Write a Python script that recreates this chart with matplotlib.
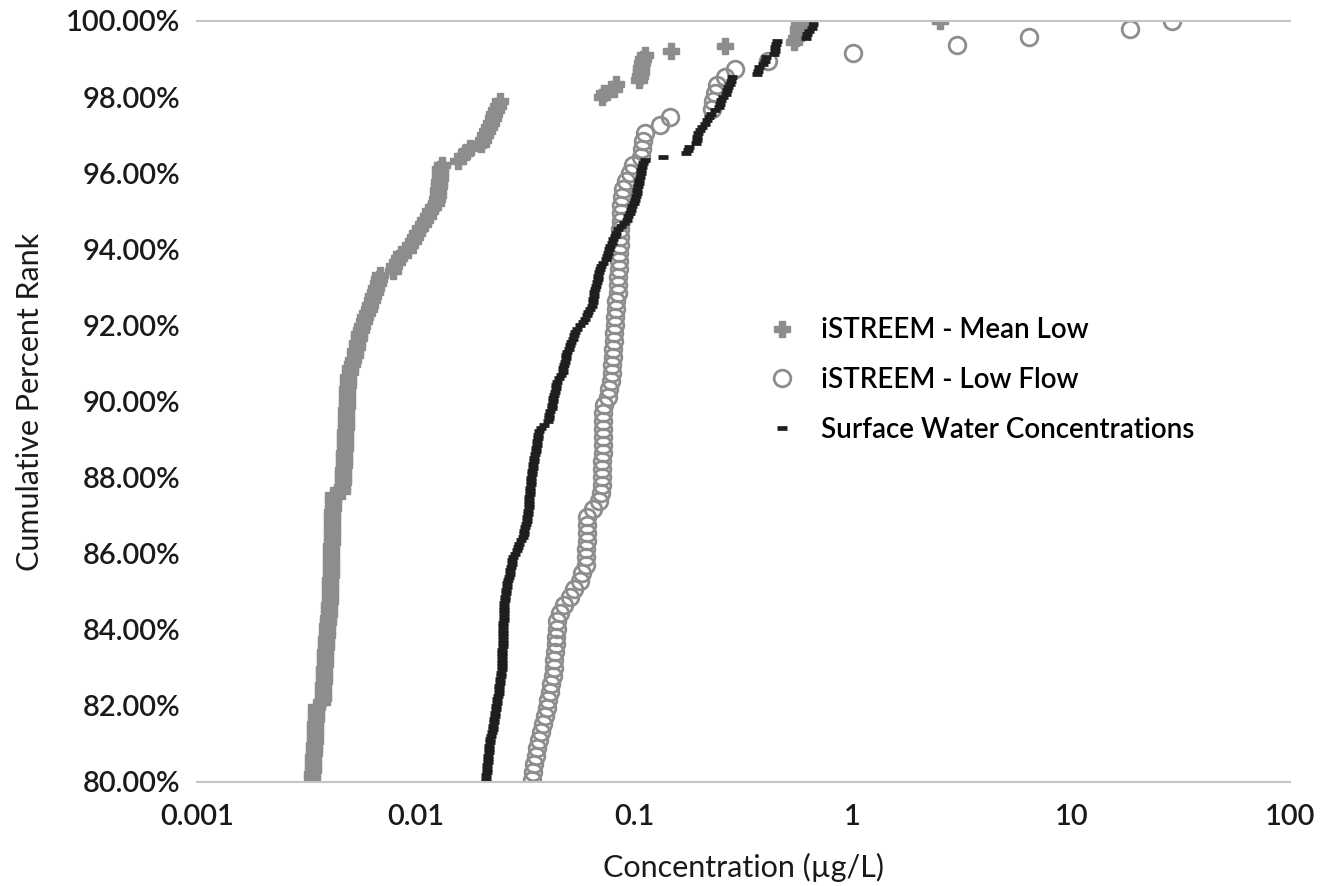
import numpy as np
import matplotlib.pyplot as plt
from matplotlib.ticker import FixedLocator, NullLocator, PercentFormatter

plt.rcParams['font.family'] = ['Lato', 'DejaVu Sans']
plt.rcParams['font.weight'] = 'semibold'

# concentrations (ug/L), sorted high -> low, only the part above the 80th percentile is shown
# iSTREEM - Mean Low
mean_low = [2.5, 0.57, 0.56, 0.56, 0.55, 0.54, 0.26, 0.148, 0.112, 0.110,
            0.109, 0.108, 0.107, 0.106, 0.105, 0.083, 0.081, 0.073, 0.071,
            0.0243, 0.0238, 0.0234, 0.0229, 0.0225, 0.0221, 0.0216, 0.0212, 0.0208, 0.0203, 0.0199,
            0.0177, 0.0170, 0.0163, 0.0157,
            0.0132, 0.0130, 0.0129, 0.0129, 0.0128, 0.0128, 0.0127, 0.0127, 0.0126,
            0.0124, 0.0120, 0.0117, 0.0114, 0.0111, 0.0108, 0.0105, 0.0102, 0.0099, 0.0097, 0.0094,
            0.0092, 0.0086, 0.0084, 0.0082, 0.0080, 0.0079,
            0.0069, 0.0068, 0.0067, 0.0066, 0.0065, 0.0064, 0.0063, 0.0062, 0.0061, 0.0060,
            0.0059, 0.0058, 0.0057, 0.0056, 0.0055, 0.0055, 0.0054, 0.0054, 0.0053, 0.0053,
            0.0052, 0.0051, 0.0050, 0.0050, 0.0049, 0.0049,
            0.00490, 0.00488, 0.00487, 0.00486, 0.00485, 0.00484, 0.00483, 0.00482, 0.00481, 0.00480,
            0.00479, 0.00478, 0.00477, 0.00476, 0.00475, 0.00474, 0.00473, 0.00472, 0.00470, 0.00469,
            0.00468, 0.00467, 0.00465, 0.00464, 0.00462, 0.00460,
            0.00418, 0.00418, 0.00417, 0.00417, 0.00416, 0.00416, 0.00415, 0.00415, 0.00414, 0.00414,
            0.00413, 0.00413, 0.00412, 0.00412, 0.00411, 0.00411, 0.00410, 0.00410, 0.00409, 0.00409,
            0.00408, 0.00408, 0.00407, 0.00407,
            0.00406, 0.00404, 0.00403, 0.00401, 0.00400, 0.00398, 0.00397, 0.00395, 0.00394, 0.00393,
            0.00391, 0.00390, 0.00389, 0.00387, 0.00386, 0.00385, 0.00384, 0.00383, 0.00382, 0.00381,
            0.00380, 0.00379, 0.00378, 0.00377, 0.00376, 0.00375,
            0.00352, 0.00351, 0.00350, 0.00349, 0.00348, 0.00347, 0.00346, 0.00345, 0.00345, 0.00344,
            0.00343, 0.00342, 0.00341, 0.00340, 0.00339, 0.00338, 0.00337, 0.00336]
n_mean_low = 900   # total records in the iSTREEM mean-low set

# iSTREEM - Low Flow
low_flow = [29.0, 18.5, 6.4, 3.0, 1.0, 0.41, 0.29, 0.26, 0.24, 0.235,
            0.23, 0.228, 0.146, 0.131, 0.112, 0.110, 0.109, 0.108, 0.099, 0.096,
            0.092, 0.089, 0.088,
            0.087, 0.087, 0.087, 0.086, 0.086, 0.086, 0.085, 0.085, 0.085, 0.084,
            0.084, 0.084, 0.083, 0.083, 0.082, 0.082, 0.081, 0.081, 0.080, 0.080,
            0.079, 0.079, 0.078, 0.077, 0.076, 0.073,
            0.0722, 0.0721, 0.0720, 0.0719, 0.0718, 0.0717, 0.0716, 0.0714, 0.0712, 0.0710, 0.0705,
            0.069, 0.0647,
            0.0610, 0.0609, 0.0608, 0.0607, 0.0605, 0.0603, 0.0600,
            0.058, 0.0565, 0.053, 0.051, 0.048, 0.0458,
            0.0444, 0.0442, 0.0440, 0.0438, 0.0435, 0.0432, 0.0428, 0.0425,
            0.0418, 0.0411, 0.0405, 0.0399, 0.0392, 0.0384, 0.0376, 0.0368, 0.0360, 0.0354,
            0.0348, 0.0344, 0.0341]
n_low_flow = 477

# Surface Water Concentrations (measured)
surface = [0.66, 0.65, 0.63, 0.62, 0.61, 0.45, 0.445, 0.441, 0.44, 0.437,
           0.40, 0.398, 0.39, 0.372, 0.368, 0.365, 0.28, 0.277, 0.274, 0.27,
           0.265, 0.262, 0.255, 0.250, 0.247, 0.245, 0.235, 0.225, 0.220, 0.215,
           0.211, 0.205, 0.200, 0.196, 0.194, 0.193, 0.192, 0.178, 0.176, 0.173,
           0.1355, 0.112, 0.110,
           0.1086, 0.1078, 0.1070, 0.1062, 0.1055, 0.1047, 0.1040, 0.1032, 0.1025, 0.1017, 0.1008,
           0.0995, 0.0981, 0.0967, 0.0954, 0.0940, 0.0927,
           0.0900, 0.0870, 0.0845,
           0.0830, 0.0815, 0.0802, 0.0788, 0.0775,
           0.0767, 0.0759, 0.0751, 0.0743,
           0.0720, 0.0705, 0.0698,
           0.0692, 0.0686, 0.0680, 0.0674, 0.0668, 0.0662,
           0.0658, 0.0654, 0.0650, 0.0645, 0.0641,
           0.0630, 0.0618, 0.0606, 0.0594, 0.0583,
           0.0565, 0.0550, 0.0536,
           0.0530, 0.0523, 0.0516, 0.0509, 0.0501, 0.0493,
           0.0489, 0.0486, 0.0482, 0.0479, 0.0475, 0.0472,
           0.0462, 0.0453, 0.0444,
           0.0440, 0.0437, 0.0433, 0.0429, 0.0425,
           0.0424, 0.0422, 0.0420,
           0.0414, 0.0409, 0.0406, 0.0403,
           0.0385, 0.0375, 0.0368, 0.0363,
           0.0362, 0.0360, 0.0358, 0.0356, 0.0354, 0.0352, 0.0350, 0.0348, 0.0346, 0.0344,
           0.0342, 0.0340, 0.0338,
           0.0337, 0.0336, 0.0335, 0.0334, 0.0333, 0.0332, 0.0331, 0.0330, 0.0329, 0.0328, 0.0327,
           0.0324, 0.0322, 0.0319, 0.0317, 0.0315, 0.0312, 0.0310,
           0.0304, 0.0298, 0.0294, 0.0290, 0.0284, 0.0279,
           0.0277, 0.0275, 0.0273, 0.0271, 0.0269, 0.0267, 0.0265, 0.0263, 0.0261, 0.0260,
           0.0258, 0.0257, 0.0256,
           0.0255, 0.0255, 0.0254, 0.0254, 0.0253, 0.0253, 0.0252, 0.0252, 0.0251,
           0.0251, 0.0251, 0.0250, 0.0250, 0.0250, 0.0249, 0.0249, 0.0249, 0.0248, 0.0248,
           0.0248, 0.0248,
           0.0246, 0.0245, 0.0244, 0.0243, 0.0242, 0.0241, 0.0240, 0.0239, 0.0237, 0.0236,
           0.0234, 0.0233, 0.0232, 0.0231, 0.0229, 0.0228, 0.0226, 0.0225, 0.0223, 0.0221, 0.0219,
           0.0218, 0.0217, 0.0217, 0.0216, 0.0215, 0.0215, 0.0214, 0.0213, 0.0213, 0.0212,
           0.0211, 0.0211, 0.0210]
n_surface = 1149

x_ticks = [0.001, 0.01, 0.1, 1, 10, 100]
x_tick_labels = ['0.001', '0.01', '0.1', '1', '10', '100']
y_ticks = [0.80, 0.82, 0.84, 0.86, 0.88, 0.90, 0.92, 0.94, 0.96, 0.98, 1.00]

# cumulative percent rank of each sorted value
y_mean = 1 - np.arange(len(mean_low)) / (n_mean_low - 1)
y_low = 1 - np.arange(len(low_flow)) / (n_low_flow - 1)
y_surf = 1 - (np.arange(len(surface)) + 1) / (n_surface + 1)

fig = plt.figure(figsize=(13.38, 8.86), dpi=100)
ax = fig.add_axes([0.1472, 0.1174, 0.8169, 0.8589])

ax.plot(mean_low, y_mean, linestyle='none', marker='P', ms=11, color='#8d8d8d',
        mec='#8d8d8d', label='iSTREEM - Mean Low')
ax.plot(low_flow, y_low, linestyle='none', marker='o', ms=12, mfc='none',
        mec='#8d8d8d', mew=2.0, label='iSTREEM - Low Flow')
ax.plot(surface, y_surf, linestyle='none', marker='_', ms=7, mew=3.4,
        color='#1e1e1e', label='Surface Water Concentrations')

ax.set_xscale('log')
ax.set_xlim(0.001, 100)
ax.set_ylim(0.80, 1.00)
ax.xaxis.set_major_locator(FixedLocator(x_ticks))
ax.xaxis.set_minor_locator(NullLocator())
ax.set_xticklabels(x_tick_labels)
ax.set_yticks(y_ticks)
ax.yaxis.set_major_formatter(PercentFormatter(1, decimals=2))
ax.tick_params(length=0, labelsize=21, colors='#1a1a1a')
ax.tick_params(axis='x', pad=16)
ax.tick_params(axis='y', pad=12)

for s in ['left', 'right']:
    ax.spines[s].set_visible(False)
for s in ['top', 'bottom']:
    ax.spines[s].set_color('#c4c4c4')
    ax.spines[s].set_linewidth(1.5)

ax.set_xlabel('Concentration (µg/L)', fontsize=22, color='#1a1a1a', labelpad=16)
ax.set_ylabel('Cumulative Percent Rank', fontsize=22, color='#1a1a1a', labelpad=16)

ax.legend(loc='upper left', bbox_to_anchor=(0.515, 0.625), frameon=False, fontsize=20,
          handlelength=0.8, handletextpad=1.0, labelspacing=0.85, borderaxespad=0)

fig.savefig('out.png', dpi=100)
